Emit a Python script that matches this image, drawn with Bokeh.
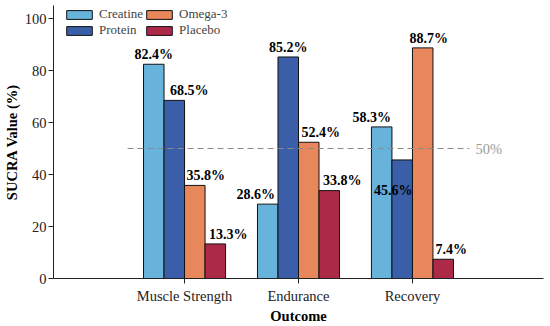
from bokeh.plotting import figure
from bokeh.models import ColumnDataSource, FixedTicker, Legend, LegendItem
from bokeh.core.properties import value
from bokeh.embed import file_html
from bokeh.resources import INLINE

outcomes = ["Muscle Strength", "Endurance", "Recovery"]
series = ["Creatine", "Protein", "Omega-3", "Placebo"]
creatine = [82.4, 28.6, 58.3]
protein = [68.5, 85.2, 45.6]
omega3 = [35.8, 52.4, 88.7]
placebo = [13.3, 33.8, 7.4]
threshold = 50
y_ticks = [0, 20, 40, 60, 80, 100]

values = [creatine, protein, omega3, placebo]
colors = ["#67b3dc", "#3a5fa8", "#e8865c", "#ac2a48"]

# label nudges (pixels) to mimic the reference's de-overlapped labels
label_dx = [[0, -12, -10], [15, 0, -9], [11, 12, 6], [13, 13, 8]]
label_dy = [[0, 0, 0], [0, 0, 40], [0, 0, 0], [0, 0, 0]]

FONT = "Liberation Serif"
n = len(outcomes)
bw = 0.18
offsets = [-1.5 * bw, -0.5 * bw, 0.5 * bw, 1.5 * bw]

p = figure(width=550, height=326, output_backend="svg", toolbar_location=None,
           x_range=(-1.15, 3.15), y_range=(0, 105),
           min_border_left=50, min_border_top=5, min_border_right=7, min_border_bottom=0)
p.outline_line_color = None
p.xgrid.visible = False
p.ygrid.visible = False

items = []
for i, s in enumerate(series):
    xs = [k + offsets[i] for k in range(n)]
    src = ColumnDataSource(dict(x=xs, top=values[i],
                                ly=[v + 3.8 for v in values[i]],
                                lab=[f"{v:.1f}%" for v in values[i]],
                                dx=label_dx[i], dy=label_dy[i]))
    r = p.vbar(x="x", top="top", width=bw, bottom=0, source=src,
               fill_color=colors[i], line_color="#111111", line_width=1)
    items.append((s, r))
    p.text(x="x", y="ly", text="lab", source=src, x_offset="dx", y_offset="dy",
           text_align="center", text_baseline="middle",
           text_font=value(FONT), text_font_style="bold", text_font_size="14px",
           text_color="#000000")

p.line(x=[-0.5, n - 0.5], y=[threshold, threshold], line_color="#8a8a8a",
       line_dash="6 4", line_width=1)
p.text(x=[n - 0.5], y=[threshold], text=[f"{threshold}%"], x_offset=6,
       text_align="left", text_baseline="middle", text_font=value(FONT),
       text_font_size="14.5px", text_color="#9a9a9a")

# legend: column-major order like the reference
order = [0, 2, 1, 3]
legend = Legend(items=[LegendItem(label=items[j][0], renderers=[items[j][1]]) for j in order],
                location=(10, 240), ncols=2, orientation="horizontal",
                label_text_font=FONT, label_text_font_size="13px")
legend.border_line_color = None
legend.background_fill_alpha = 0
legend.label_height = 11
legend.glyph_height = 11
legend.glyph_width = 32
legend.label_standoff = 4
legend.spacing = 0
legend.padding = 0
legend.margin = 0
p.add_layout(legend)

p.xaxis.ticker = FixedTicker(ticks=list(range(n)))
p.xaxis.major_label_overrides = {k: outcomes[k] for k in range(n)}
p.xaxis.minor_tick_line_color = None
p.yaxis.minor_tick_line_color = None
p.yaxis.ticker = FixedTicker(ticks=y_ticks)
p.xaxis.axis_label = "Outcome"
p.yaxis.axis_label = "SUCRA Value (%)"
for ax in (p.xaxis[0], p.yaxis[0]):
    ax.axis_line_color = "#222222"
    ax.major_tick_line_color = "#222222"
    ax.major_tick_out = 5
    ax.major_tick_in = 0
    ax.major_label_text_font = FONT
    ax.major_label_text_font_size = "14.5px"
    ax.major_label_text_color = "#222222"
    ax.axis_label_text_font = FONT
    ax.axis_label_text_font_style = "bold"
    ax.axis_label_text_font_size = "14.5px"
    ax.axis_label_text_color = "#000000"
p.xaxis.major_label_standoff = 4
p.xaxis.axis_label_standoff = 1
p.yaxis.major_label_standoff = 2
p.yaxis.axis_label_standoff = 2

open("out.html", "w").write(file_html(p, INLINE))
